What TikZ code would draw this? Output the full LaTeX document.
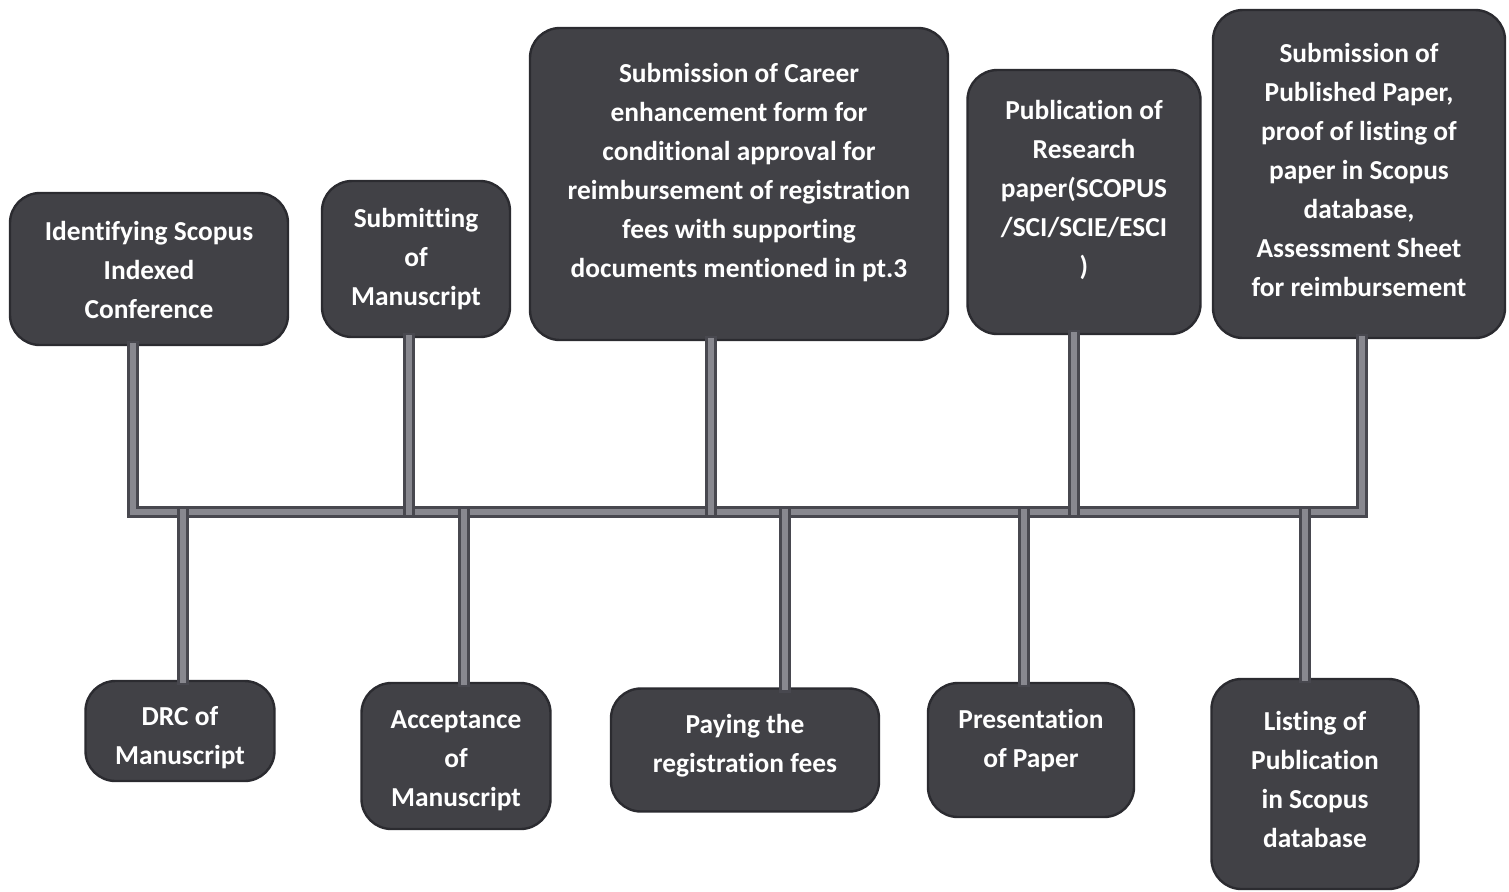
\documentclass[tikz,border=0pt]{standalone}
\usepackage{fontspec}
\setmainfont{Carlito}[RawFeature={-liga;-clig;-calt}]
\definecolor{boxfill}{HTML}{414146}
\definecolor{boxline}{HTML}{2B2B30}
\definecolor{linkfill}{HTML}{88888F}
\definecolor{linkline}{HTML}{48484F}
\tikzset{
    stage/.style={rectangle, rounded corners=15pt, fill=boxfill, draw=boxline,
        line width=1.2pt, inner sep=0pt},
    stagetext/.style={text=white, align=center, inner sep=0pt,
        font=\fontsize{13.7}{19.5}\selectfont\bfseries},
    link/.style={draw=linkline, line width=1.3pt, double=linkfill,
        double distance=3pt, line cap=rect}
}
\begin{document}
\begin{tikzpicture}[x=0.5pt,y=-0.5pt]
                \fill[white] (0,0) rectangle (1509,891);
                \useasboundingbox (0,0) rectangle (1509,891);
                % bus
                \coordinate (busl) at (133,512);
                \coordinate (busr) at (1362,512);
                \coordinate (u2) at (409,512);
                \coordinate (u3) at (711,512);
                \coordinate (u4) at (1074,512);
                \coordinate (d1) at (183,512);
                \coordinate (d2) at (464,512);
                \coordinate (d3) at (785,512);
                \coordinate (d4) at (1024,512);
                \coordinate (d5) at (1305,512);
                % upper stages
                \node[stage, minimum width=139pt, minimum height=76pt,
                    label={[stagetext, yshift=-0.5pt]center:{Identifying Scopus\\Indexed\\Conference}}] (1) at(149,269) {};
                \node[stage, minimum width=94pt, minimum height=78pt,
                    label={[stagetext]center:{Submitting\\of\\Manuscript}}] (2) at(416,259) {};
                \node[stage, minimum width=209pt, minimum height=156pt,
                    label={[stagetext, yshift=5.5pt]center:{Submission of Career\\enhancement form for\\conditional approval for\\reimbursement of registration\\fees with supporting\\documents mentioned in pt.3}}] (3) at(739,184) {};
                \node[stage, minimum width=116.5pt, minimum height=132pt,
                    label={[stagetext, yshift=6.25pt]center:{Publication of\\Research\\paper(SCOPUS\\/SCI/SCIE/ESCI\\)}}] (4) at(1084,202) {};
                \node[stage, minimum width=146pt, minimum height=164pt,
                    label={[stagetext, yshift=2.25pt]center:{Submission of\\Published Paper,\\proof of listing of\\paper in Scopus\\database,\\Assessment Sheet\\for reimbursement}}] (5) at(1359,174) {};
                % lower stages
                \node[stage, minimum width=94.5pt, minimum height=50pt,
                    label={[stagetext, yshift=-3.25pt]center:{DRC of\\Manuscript}}] (6) at(180,731) {};
                \node[stage, minimum width=94.5pt, minimum height=73pt,
                    label={[stagetext, yshift=-2.5pt]center:{Acceptance\\of\\Manuscript}}] (7) at(456,756) {};
                \node[stage, minimum width=134pt, minimum height=61.5pt,
                    label={[stagetext, yshift=2.25pt]center:{Paying the\\registration fees}}] (8) at(745,750) {};
                \node[stage, minimum width=103pt, minimum height=67pt,
                    label={[stagetext, yshift=4.75pt]center:{Presentation\\of Paper}}] (9) at(1031,750) {};
                \node[stage, minimum width=103.5pt, minimum height=105pt,
                    label={[stagetext, yshift=2.5pt]center:{Listing of\\Publication\\in Scopus\\database}}] (10) at(1315,784) {};
                % links
                \draw[link] (1.south -| busl) -- (busl) -- (busr) -- (5.south -| busr);
                \draw[link] (2.south -| u2) -- (u2);
                \draw[link] (3.south -| u3) -- (u3);
                \draw[link] (4.south -| u4) -- (u4);
                \draw[link] (d1) -- (6.north -| d1);
                \draw[link] (d2) -- (7.north -| d2);
                \draw[link] (d3) -- (8.north -| d3);
                \draw[link] (d4) -- (9.north -| d4);
                \draw[link] (d5) -- (10.north -| d5);
            \end{tikzpicture}
\end{document}
